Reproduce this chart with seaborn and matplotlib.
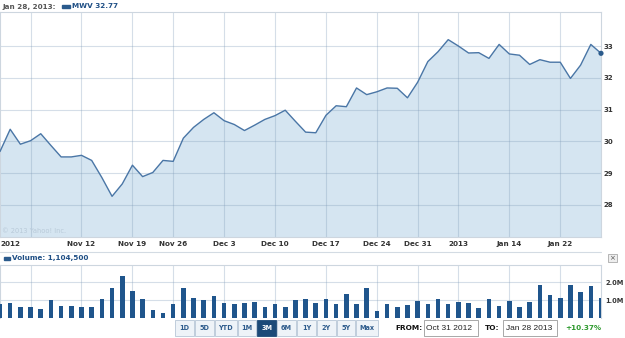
import numpy as np
import pandas as pd
import matplotlib
matplotlib.use("Agg")
import matplotlib.pyplot as plt
import seaborn as sns
from matplotlib.patches import Rectangle
from matplotlib.lines import Line2D

# ---------------- data ----------------
holidays = ["2012-11-22", "2012-12-25", "2013-01-01", "2013-01-21"]
trading_days = pd.bdate_range("2012-10-31", "2013-01-28")
trading_days = trading_days[~trading_days.isin(pd.to_datetime(holidays))]

close = [29.68, 30.38, 29.91, 30.02, 30.24, 29.87, 29.51, 29.51, 29.56, 29.40,
         28.86, 28.27, 28.66, 29.25, 28.89, 29.02, 29.40, 29.37, 30.10, 30.44,
         30.69, 30.90, 30.65, 30.53, 30.34, 30.51, 30.69, 30.81, 30.98, 30.63,
         30.29, 30.27, 30.82, 31.12, 31.09, 31.68, 31.47, 31.56, 31.68, 31.67,
         31.37, 31.86, 32.51, 32.82, 33.20, 33.00, 32.78, 32.79, 32.61, 33.05,
         32.75, 32.71, 32.42, 32.57, 32.49, 32.49, 31.98, 32.40, 33.05, 32.77]

volume_m = [0.77, 0.86, 0.60, 0.64, 0.51, 0.99, 0.67, 0.67, 0.64, 0.64,
            1.05, 1.67, 2.38, 1.53, 1.05, 0.45, 0.28, 0.77, 1.67, 1.14,
            0.99, 1.25, 0.86, 0.80, 0.86, 0.90, 0.64, 0.77, 0.60, 0.99,
            1.07, 0.86, 1.08, 0.77, 1.35, 0.77, 1.67, 0.39, 0.80, 0.64,
            0.73, 0.96, 0.80, 1.05, 0.77, 0.90, 0.86, 0.54, 1.08, 0.67,
            0.96, 0.60, 0.90, 1.84, 1.29, 1.12, 1.84, 1.44, 1.78, 1.1045]

tick_dates = ["2012-11-01", "2012-11-12", "2012-11-19", "2012-11-26", "2012-12-03",
              "2012-12-10", "2012-12-17", "2012-12-24", "2012-12-31", "2013-01-07",
              "2013-01-14", "2013-01-22"]
tick_labels = ["2012", "Nov 12", "Nov 19", "Nov 26", "Dec 3", "Dec 10", "Dec 17",
               "Dec 24", "Dec 31", "2013", "Jan 14", "Jan 22"]
grid_dates = ["2012-11-05", "2012-11-12", "2012-11-19", "2012-11-26", "2012-12-03",
              "2012-12-10", "2012-12-17", "2012-12-24", "2012-12-31", "2013-01-07",
              "2013-01-14", "2013-01-22"]
price_ticks = [28, 29, 30, 31, 32, 33]
volume_ticks = [1.0, 2.0]
volume_tick_labels = ["1.0M", "2.0M"]

symbol = "MWV"
last_date_label = "Jan 28, 2013:"
last_volume = 1104500
from_label = "Oct 31 2012"
to_label = "Jan 28 2013"
change_pct = 10.37
range_buttons = ["1D", "5D", "YTD", "1M", "3M", "6M", "1Y", "2Y", "5Y", "Max"]
selected_range = "3M"

df = pd.DataFrame({"idx": np.arange(len(close)), "close": close, "volume": volume_m})
pos = {d.strftime("%Y-%m-%d"): i for i, d in enumerate(trading_days)}
tick_idx = [pos[d] for d in tick_dates]
grid_idx = [pos[d] for d in grid_dates]

# ---------------- style ----------------
sns.set_theme(style="white")
plt.rcParams["font.family"] = ["DejaVu Sans"]

W, H = 625, 338
LINE = "#4a76a6"
FILL = "#d5e5f1"
BAR = "#1f558c"
GRID = "#7f9bb8"
GRID_ALPHA = 0.32
TXT = "#333333"
BLUE_TXT = "#1f4f85"

fig = plt.figure(figsize=(W / 100, H / 100), dpi=100)


def rect(left, top, right, bottom):
    return [left / W, 1 - bottom / H, (right - left) / W, (bottom - top) / H]


ax_p = fig.add_axes(rect(0, 12, 601, 237))
ax_v = fig.add_axes(rect(0, 265, 601, 318))

# ---- price panel ----
ax_p.grid(False)
ax_p.fill_between(df["idx"], df["close"], 20, color=FILL, zorder=1, lw=0)
for g in grid_idx:
    ax_p.axvline(g, color=GRID, alpha=GRID_ALPHA, lw=0.8, zorder=2)
for t in price_ticks:
    ax_p.axhline(t, color=GRID, alpha=GRID_ALPHA, lw=0.8, zorder=2)
sns.lineplot(data=df, x="idx", y="close", ax=ax_p, color=LINE, lw=1.0, zorder=3)
sns.scatterplot(data=df.tail(1), x="idx", y="close", ax=ax_p, color="#2b5b8c",
                s=14, edgecolor="none", zorder=4, clip_on=False)
ax_p.set_xlim(0, len(close) - 1)
ax_p.set_ylim(26.99, 34.07)
ax_p.set_xticks(tick_idx)
ax_p.set_xticklabels(tick_labels)
ax_p.set_yticks(price_ticks)
ax_p.yaxis.tick_right()
ax_p.grid(False)
ax_p.tick_params(axis="both", which="both", length=0)
ax_p.tick_params(axis="x", pad=3, labelsize=5.2, labelcolor=TXT)
ax_p.tick_params(axis="y", pad=2, labelsize=5.0, labelcolor=TXT)
for lbl in ax_p.get_xticklabels() + ax_p.get_yticklabels():
    lbl.set_fontweight("bold")
ax_p.set_xlabel("")
ax_p.set_ylabel("")
for s in ax_p.spines.values():
    s.set_color("#cdd6df")
    s.set_linewidth(0.8)
ax_p.text(0.004, 0.015, "\u00a9 2013 Yahoo! Inc.", transform=ax_p.transAxes,
          fontsize=4.8, color="#b9cad9", ha="left", va="bottom", zorder=2)

# ---- volume panel ----
ax_v.grid(False)
for g in grid_idx:
    ax_v.axvline(g, color=GRID, alpha=GRID_ALPHA, lw=0.8, zorder=1)
for t in volume_ticks:
    ax_v.axhline(t, color=GRID, alpha=GRID_ALPHA, lw=0.8, zorder=1)
sns.barplot(data=df, x="idx", y="volume", ax=ax_v, color=BAR, width=0.45,
            native_scale=True, saturation=1, errorbar=None, zorder=3,
            linewidth=0)
ax_v.set_xlim(0, len(close) - 1)
ax_v.set_ylim(0, 2.98)
ax_v.set_xticks([])
ax_v.set_yticks(volume_ticks)
ax_v.set_yticklabels(volume_tick_labels)
ax_v.yaxis.tick_right()
ax_v.grid(False)
ax_v.tick_params(axis="both", length=0)
ax_v.tick_params(axis="y", pad=3, labelsize=4.8, labelcolor=TXT)
for lbl in ax_v.get_yticklabels():
    lbl.set_fontweight("bold")
ax_v.set_xlabel("")
ax_v.set_ylabel("")
for k, s in ax_v.spines.items():
    s.set_color("#cdd6df")
    s.set_linewidth(0.8)
ax_v.spines["bottom"].set_visible(False)

# ---- overlay (header, controls) ----
ax_o = fig.add_axes([0, 0, 1, 1])
ax_o.set_xlim(0, W)
ax_o.set_ylim(H, 0)
ax_o.axis("off")

ax_o.text(2, 6.5, last_date_label, fontsize=5.2, weight="bold", color="#555555",
          va="center", ha="left")
ax_o.add_patch(Rectangle((62, 4.5), 8, 3.5, color="#2a5a8c"))
ax_o.text(72, 6.5, f"{symbol} {close[-1]:.2f}", fontsize=5.2, weight="bold",
          color=BLUE_TXT, va="center", ha="left")

# separator above volume
ax_o.add_line(Line2D([0, 601], [252, 252], color="#d3dbe3", lw=0.8))
ax_o.add_patch(Rectangle((4, 256.5), 6, 3, color="#2a5a8c"))
ax_o.text(11.5, 258, f"Volume: {last_volume:,}", fontsize=5.2, weight="bold",
          color=BLUE_TXT, va="center", ha="left")
# close box
ax_o.add_patch(Rectangle((607.5, 253.5), 9, 8.5, facecolor="#eeeeee",
                         edgecolor="#aaaaaa", lw=0.6))
ax_o.text(612, 257.8, "\u00d7", fontsize=5, color="#555555", ha="center", va="center")

# range buttons
x = 175
for lab in range_buttons:
    w = 19.8 if len(lab) <= 2 else 23
    sel = lab == selected_range
    ax_o.add_patch(Rectangle((x, 319.5), w - 1, 16,
                             facecolor="#1c4a78" if sel else "#eef3f8",
                             edgecolor="#1c4a78" if sel else "#b7c6d6", lw=0.6))
    ax_o.text(x + (w - 1) / 2, 327.8, lab, fontsize=4.7, weight="bold",
              color="white" if sel else "#2d5b8c", ha="center", va="center")
    x += w

ax_o.text(395, 327.8, "FROM:", fontsize=5.3, weight="bold", color="#111111",
          ha="left", va="center")
ax_o.add_patch(Rectangle((424, 320), 54, 16, facecolor="white", edgecolor="#9a9a9a", lw=0.6))
ax_o.text(426.5, 328, from_label, fontsize=6, color="#222222", ha="left", va="center",
          family=["Liberation Sans", "DejaVu Sans"])
ax_o.text(485, 327.8, "TO:", fontsize=5.3, weight="bold", color="#111111",
          ha="left", va="center")
ax_o.add_patch(Rectangle((503, 320), 54, 16, facecolor="white", edgecolor="#9a9a9a", lw=0.6))
ax_o.text(505.5, 328, to_label, fontsize=6, color="#222222", ha="left", va="center",
          family=["Liberation Sans", "DejaVu Sans"])
ax_o.text(565, 327.8, f"+{change_pct:.2f}%", fontsize=5.2, weight="bold",
          color="#2f9a2f", ha="left", va="center")

fig.savefig("out.png", dpi=100)
